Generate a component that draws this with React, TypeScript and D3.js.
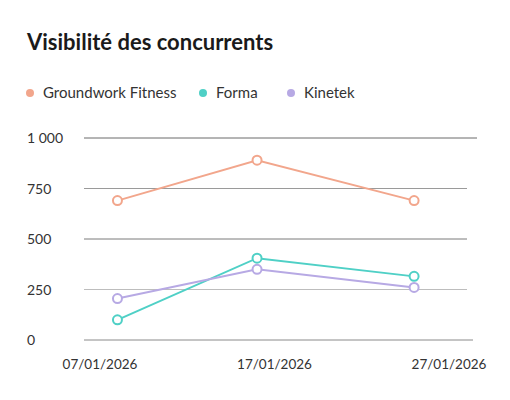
import * as d3 from "d3";

const seriesNames = ["Groundwork Fitness", "Forma", "Kinetek"];
const seriesColors = ["#f2a68c", "#4fd0c6", "#b7a9e4"];
const dates = ["2026-01-08", "2026-01-16", "2026-01-25"];
const groundwork = [690, 890, 690];
const forma = [100, 405, 315];
const kinetek = [205, 350, 260];
const yTicks = [0, 250, 500, 750, 1000];
const xTicks = ["2026-01-07", "2026-01-17", "2026-01-27"];

const seriesValues = [groundwork, forma, kinetek];

// gridline tone per tick (0 → 1000)
const gridColors = ["#8a8a8a", "#bdbdbd", "#7a7a7a", "#9a9a9a", "#6a6a6a"];
const gridEnds = [473, 467, 467, 467, 477];

const FONT = "Lato, 'Noto Sans', sans-serif";

export default function App() {
  const width = 510;
  const height = 400;

  const parse = d3.utcParse("%Y-%m-%d");
  const fmt = d3.utcFormat("%d/%m/%Y");

  const x = d3
    .scaleUtc()
    .domain([parse(xTicks[0])!, parse(xTicks[xTicks.length - 1])!])
    .range([100, 449]);
  const y = d3.scaleLinear().domain([0, 1000]).range([340, 138]);

  const line = d3
    .line<[Date, number]>()
    .x((d) => x(d[0]))
    .y((d) => y(d[1]));

  const legendX = [30, 203, 291];

  return (
    <svg
      width={width}
      height={height}
      style={{ position: "absolute", left: 0, top: 0, background: "#fff" }}
      fontFamily={FONT}
    >
      <text x={27} y={50} fontSize={22} fontWeight={700} fill="#1a1a1a">
        Visibilité des concurrents
      </text>

      {/* legend */}
      {seriesNames.map((name, i) => (
        <g key={name}>
          <circle cx={legendX[i]} cy={93} r={4} fill={seriesColors[i]} />
          <text x={legendX[i] + 13} y={98} fontSize={15} fill="#333">
            {name}
          </text>
        </g>
      ))}

      {/* grid + y labels */}
      {yTicks.map((t, i) => (
        <g key={t}>
          <line
            x1={84}
            x2={gridEnds[i]}
            y1={y(t)}
            y2={y(t)}
            stroke={gridColors[i]}
            strokeWidth={1}
          />
          <text x={27} y={y(t) + 5} fontSize={14} fill="#333">
            {d3.format(",")(t).replace(/,/g, " ")}
          </text>
        </g>
      ))}

      {/* x labels */}
      {xTicks.map((t) => (
        <text
          key={t}
          x={x(parse(t)!)}
          y={369}
          fontSize={13.5}
          fill="#333"
          textAnchor="middle"
        >
          {fmt(parse(t)!)}
        </text>
      ))}

      {/* series */}
      {seriesValues.map((vals, i) => {
        const pts: [Date, number][] = vals.map((v, j) => [parse(dates[j])!, v]);
        return (
          <g key={seriesNames[i]}>
            <path d={line(pts) ?? ""} fill="none" stroke={seriesColors[i]} strokeWidth={2} />
            {pts.map((p, j) => (
              <circle
                key={j}
                cx={x(p[0])}
                cy={y(p[1])}
                r={4.5}
                fill="#fff"
                stroke={seriesColors[i]}
                strokeWidth={2}
              />
            ))}
          </g>
        );
      })}
    </svg>
  );
}
